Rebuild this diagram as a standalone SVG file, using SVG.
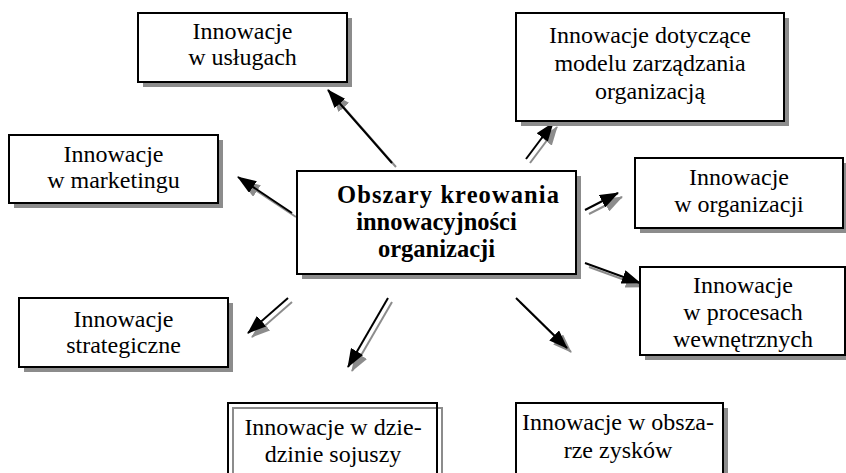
<svg xmlns="http://www.w3.org/2000/svg" width="846" height="473" viewBox="0 0 846 473">
  <style>
    .box { fill: #ffffff; stroke: #000000; stroke-width: 2; }
    .frame { fill: none; stroke: #000000; stroke-width: 2; }
    .shadow { fill: #8c8c8c; }
    .shadow-line { fill: none; stroke: #8c8c8c; stroke-width: 2; }
    .t { font-family: "Liberation Serif", "Times New Roman", serif; font-size: 24px; fill: #000000; text-anchor: middle; }
    .tb { font-family: "Liberation Serif", "Times New Roman", serif; font-size: 24.5px; font-weight: bold; fill: #000000; text-anchor: middle; }
    .arr { stroke: #000000; stroke-width: 2; fill: none; marker-end: url(#head); }
    .arr-sh { stroke: #8c8c8c; stroke-width: 2; fill: none; marker-end: url(#head-sh); }
  </style>
  <defs>
    <marker id="head" markerUnits="userSpaceOnUse" markerWidth="19" markerHeight="14" viewBox="0 0 19 14" refX="18" refY="7" orient="auto">
      <path d="M0,0 L19,7 L0,14 Z" fill="#000000"/>
    </marker>
    <marker id="head-sh" markerUnits="userSpaceOnUse" markerWidth="19" markerHeight="14" viewBox="0 0 19 14" refX="18" refY="7" orient="auto">
      <path d="M0,0 L19,7 L0,14 Z" fill="#8c8c8c"/>
    </marker>
  </defs>

  <rect width="846" height="473" fill="#ffffff"/>

  <!-- connectors: gray shadow copies first, black arrows on top -->
  <g id="connectors">
    <g transform="translate(4,4)">
      <line class="arr-sh" x1="392" y1="163" x2="328" y2="90"/>
      <line class="arr-sh" x1="292" y1="213" x2="238" y2="177"/>
      <line class="arr-sh" x1="526" y1="159" x2="553" y2="123"/>
      <line class="arr-sh" x1="585" y1="210" x2="618" y2="193"/>
      <line class="arr-sh" x1="585" y1="263" x2="640" y2="283"/>
      <line class="arr-sh" x1="516" y1="298" x2="567" y2="348"/>
      <line class="arr-sh" x1="288" y1="298" x2="248" y2="333"/>
      <line class="arr-sh" x1="388" y1="298" x2="348" y2="367"/>
    </g>
    <line class="arr" x1="392" y1="163" x2="328" y2="90"/>
    <line class="arr" x1="292" y1="213" x2="238" y2="177"/>
    <line class="arr" x1="526" y1="159" x2="553" y2="123"/>
    <line class="arr" x1="585" y1="210" x2="618" y2="193"/>
    <line class="arr" x1="585" y1="263" x2="640" y2="283"/>
    <line class="arr" x1="516" y1="298" x2="567" y2="348"/>
    <line class="arr" x1="288" y1="298" x2="248" y2="333"/>
    <line class="arr" x1="388" y1="298" x2="348" y2="367"/>
  </g>

  <g id="uslugi">
    <rect class="shadow" x="143" y="18" width="209" height="69"/>
    <rect class="box" x="138" y="13" width="209" height="69"/>
    <text class="t" x="242.5" y="39">Innowacje</text>
    <text class="t" x="242.5" y="65">w usługach</text>
  </g>

  <g id="model-zarzadzania">
    <rect class="shadow" x="521" y="18" width="268" height="108"/>
    <rect class="box" x="516" y="13" width="268" height="108"/>
    <text class="t" x="650" y="43">Innowacje dotyczące</text>
    <text class="t" x="650" y="71">modelu zarządzania</text>
    <text class="t" x="650" y="99">organizacją</text>
  </g>

  <g id="marketing">
    <rect class="shadow" x="14" y="140" width="209" height="68"/>
    <rect class="box" x="9" y="135" width="209" height="68"/>
    <text class="t" x="113.5" y="162">Innowacje</text>
    <text class="t" x="113.5" y="188">w marketingu</text>
  </g>

  <g id="obszary">
    <rect class="shadow" x="302" y="176" width="279" height="103"/>
    <rect class="box" x="297" y="171" width="279" height="103"/>
    <text class="tb" x="448" y="203" textLength="222" lengthAdjust="spacing">Obszary kreowania</text>
    <text class="tb" x="436.5" y="230">innowacyjności</text>
    <text class="tb" x="436.5" y="257">organizacji</text>
  </g>

  <g id="organizacja">
    <rect class="shadow" x="640" y="163" width="208" height="70"/>
    <rect class="box" x="635" y="158" width="208" height="70"/>
    <text class="t" x="739" y="185">Innowacje</text>
    <text class="t" x="739" y="212">w organizacji</text>
  </g>

  <g id="procesy">
    <rect class="shadow" x="645" y="272" width="205" height="88"/>
    <rect class="box" x="640" y="267" width="205" height="88"/>
    <text class="t" x="743" y="293">Innowacje</text>
    <text class="t" x="743" y="320">w procesach</text>
    <text class="t" x="743" y="347">wewnętrznych</text>
  </g>

  <g id="strategia">
    <rect class="shadow" x="24" y="303" width="209" height="69"/>
    <rect class="box" x="19" y="298" width="209" height="69"/>
    <text class="t" x="123.5" y="327">Innowacje</text>
    <text class="t" x="123.5" y="353">strategiczne</text>
  </g>

  <g id="sojusze">
    <rect class="shadow-line" x="233" y="408" width="209" height="80"/>
    <rect class="frame" x="228" y="403" width="209" height="80"/>
    <text class="t" x="333" y="435">Innowacje w dzie-</text>
    <text class="t" x="333" y="462">dzinie sojuszy</text>
  </g>

  <g id="zyski">
    <rect class="shadow" x="521" y="408" width="207" height="80"/>
    <rect class="box" x="516" y="403" width="207" height="80"/>
    <text class="t" x="618" y="430">Innowacje w obsza-</text>
    <text class="t" x="618" y="458">rze zysków</text>
  </g>
</svg>
